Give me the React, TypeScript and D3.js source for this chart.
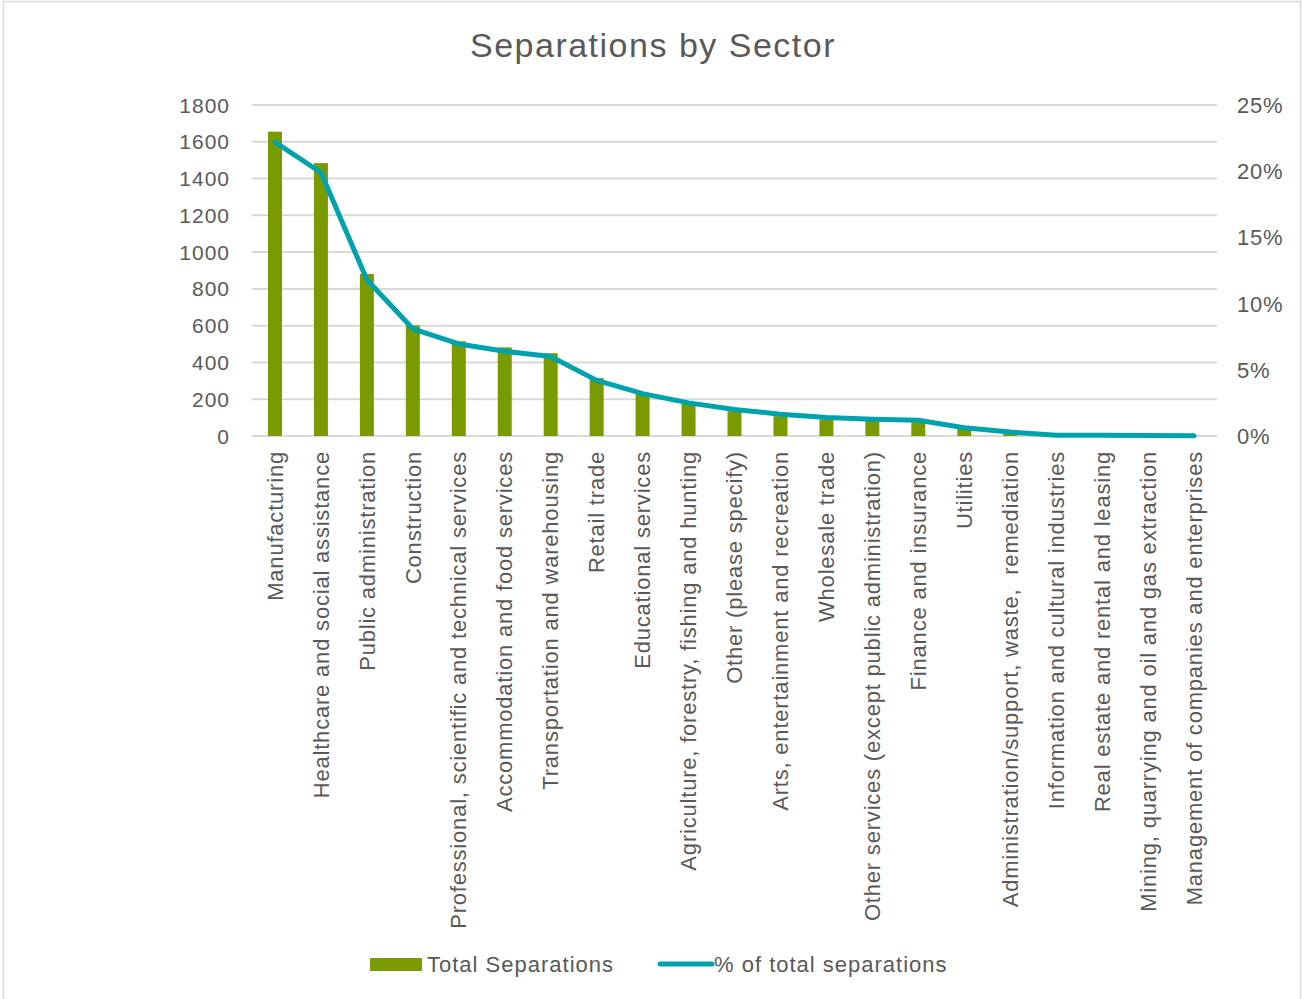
import React, { useEffect, useRef } from 'react';
import * as d3 from 'd3';

const sectors = [
  'Manufacturing',
  'Healthcare and social assistance',
  'Public administration',
  'Construction',
  'Professional, scientific and technical services',
  'Accommodation and food services',
  'Transportation and warehousing',
  'Retail trade',
  'Educational services',
  'Agriculture, forestry, fishing and hunting',
  'Other (please specify)',
  'Arts, entertainment and recreation',
  'Wholesale trade',
  'Other services (except public administration)',
  'Finance and insurance',
  'Utilities',
  'Administration/support, waste,  remediation',
  'Information and cultural industries',
  'Real estate and rental and leasing',
  'Mining, quarrying and oil and gas extraction',
  'Management of companies and enterprises',
];

// bars
const totalSeparations = [1655, 1484, 881, 602, 515, 482, 450, 315, 232, 185, 135, 108, 90, 82, 75, 42, 18, 4, 4, 2, 1];
// line (%)
const pctOfTotal = [22.2, 19.9, 11.8, 8.1, 6.95, 6.4, 6.0, 4.2, 3.2, 2.5, 2.0, 1.65, 1.4, 1.27, 1.19, 0.63, 0.3, 0.05, 0.05, 0.03, 0.01];

const leftTicks = [0, 200, 400, 600, 800, 1000, 1200, 1400, 1600, 1800];
const rightTicks = [0, 5, 10, 15, 20, 25];

const W = 1302;
const H = 999;
const FONT = '"Liberation Sans", Arial, sans-serif';
const TEXT = '#595959';
const BAR = '#7a9a01';
const LINE = '#00a3ad';
const GRID = '#d9d9d9';

export default function App() {
  const svgRef = useRef<SVGSVGElement>(null);

  useEffect(() => {
    if (!svgRef.current) return;
    const svg = d3.select(svgRef.current);
    svg.selectAll('*').remove();

    const m = { top: 105, left: 252, right: 1217, bottom: 436 };

    svg.append('rect')
      .attr('x', 3.5).attr('y', 1.5)
      .attr('width', W - 5).attr('height', H + 10)
      .attr('fill', '#fff').attr('stroke', GRID).attr('stroke-width', 1.5);

    const x = d3.scaleBand<string>()
      .domain(sectors)
      .range([m.left, m.right]);
    const yL = d3.scaleLinear().domain([0, 1800]).range([m.bottom, m.top]);
    const yR = d3.scaleLinear().domain([0, 25]).range([m.bottom, m.top]);

    // title
    svg.append('text')
      .attr('x', 653).attr('y', 57)
      .attr('text-anchor', 'middle')
      .attr('fill', TEXT)
      .style('font-family', FONT)
      .style('font-size', '34px')
      .style('letter-spacing', '1.5px')
      .text('Separations by Sector');

    // gridlines
    svg.append('g')
      .selectAll('line')
      .data(leftTicks)
      .enter()
      .append('line')
      .attr('x1', m.left).attr('x2', m.right)
      .attr('y1', d => yL(d)).attr('y2', d => yL(d))
      .attr('stroke', GRID).attr('stroke-width', 2);

    // left axis labels
    svg.append('g')
      .selectAll('text')
      .data(leftTicks)
      .enter()
      .append('text')
      .attr('x', 230)
      .attr('y', d => yL(d))
      .attr('dy', '0.36em')
      .attr('text-anchor', 'end')
      .attr('fill', TEXT)
      .style('font-family', FONT)
      .style('font-size', '21px')
      .style('letter-spacing', '1px')
      .text(d => String(d));

    // right axis labels
    svg.append('g')
      .selectAll('text')
      .data(rightTicks)
      .enter()
      .append('text')
      .attr('x', 1237)
      .attr('y', d => yR(d))
      .attr('dy', '0.36em')
      .attr('text-anchor', 'start')
      .attr('fill', TEXT)
      .style('font-family', FONT)
      .style('font-size', '22px')
      .style('letter-spacing', '0.8px')
      .text(d => `${d}%`);

    // bars
    const bw = 14;
    svg.append('g')
      .selectAll('rect')
      .data(totalSeparations)
      .enter()
      .append('rect')
      .attr('x', (d, i) => (x(sectors[i]) || 0) + x.bandwidth() / 2 - bw / 2)
      .attr('y', d => yL(d))
      .attr('width', bw)
      .attr('height', d => m.bottom - yL(d))
      .attr('fill', BAR);

    // line
    const line = d3.line<number>()
      .x((d, i) => (x(sectors[i]) || 0) + x.bandwidth() / 2)
      .y(d => yR(d));
    svg.append('path')
      .datum(pctOfTotal)
      .attr('d', line)
      .attr('fill', 'none')
      .attr('stroke', LINE)
      .attr('stroke-width', 5)
      .attr('stroke-linejoin', 'round')
      .attr('stroke-linecap', 'round');

    // category labels
    svg.append('g')
      .selectAll('text')
      .data(sectors)
      .enter()
      .append('text')
      .attr('transform', d => `translate(${(x(d) || 0) + x.bandwidth() / 2},451) rotate(-90)`)
      .attr('dy', '0.35em')
      .attr('text-anchor', 'end')
      .attr('fill', TEXT)
      .style('font-family', FONT)
      .style('font-size', '22px')
      .style('letter-spacing', '0.8px')
      .style('white-space', 'pre')
      .text(d => d);

    // legend
    const lg = svg.append('g');
    lg.append('rect')
      .attr('x', 370).attr('y', 958)
      .attr('width', 52).attr('height', 13)
      .attr('fill', BAR);
    lg.append('text')
      .attr('x', 427).attr('y', 964)
      .attr('dy', '0.36em')
      .attr('fill', TEXT)
      .style('font-family', FONT)
      .style('font-size', '22px')
      .style('letter-spacing', '1px')
      .text('Total Separations');
    lg.append('line')
      .attr('x1', 660).attr('x2', 712)
      .attr('y1', 964).attr('y2', 964)
      .attr('stroke', LINE).attr('stroke-width', 5)
      .attr('stroke-linecap', 'round');
    lg.append('text')
      .attr('x', 714).attr('y', 964)
      .attr('dy', '0.36em')
      .attr('fill', TEXT)
      .style('font-family', FONT)
      .style('font-size', '22px')
      .style('letter-spacing', '1px')
      .text('% of total separations');
  }, []);

  return (
    <div style={{ width: W, height: H, overflow: 'hidden' }}>
      <style>{'body{margin:0}'}</style>
      <svg ref={svgRef} width={W} height={H} style={{ display: 'block' }} />
    </div>
  );
}
